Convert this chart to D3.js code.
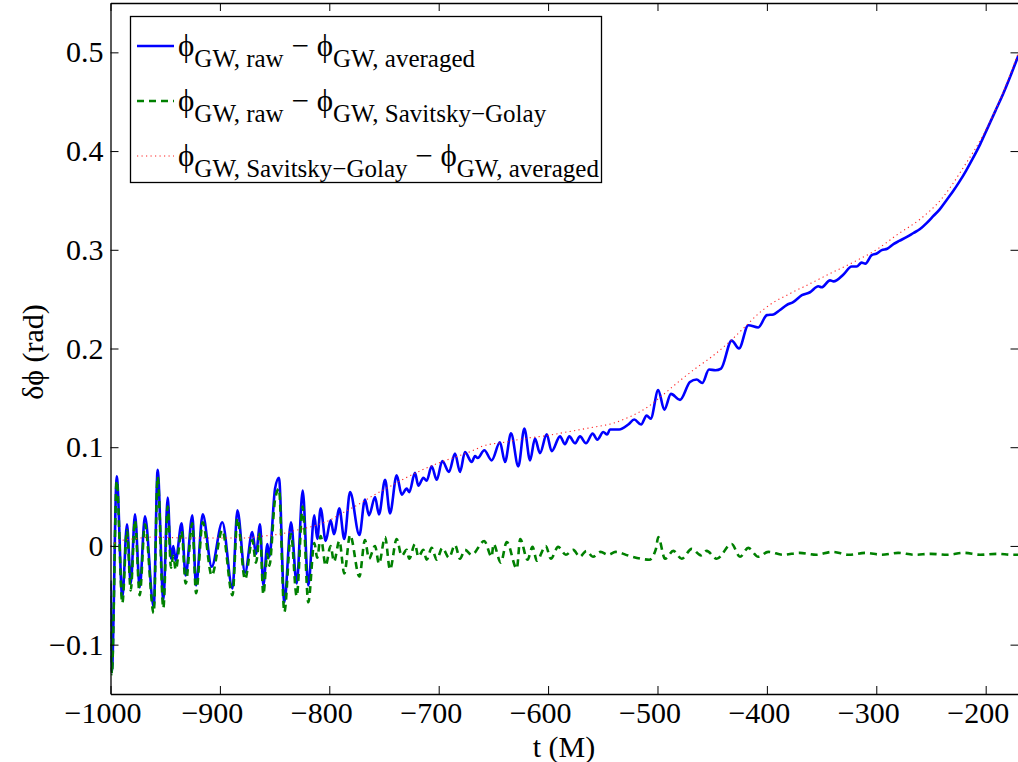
<!DOCTYPE html>
<html lang="en">
<head>
  <meta charset="UTF-8">
  <title>Phase difference</title>
  <script src="https://cdn.jsdelivr.net/npm/d3@7"></script>
  <style>
    body { margin: 0; background: #fff; }
    text { font-family: "Liberation Serif", "Times New Roman", serif; fill: #000; }
    .tick text { font-family: "Liberation Serif", "Times New Roman", serif !important; font-size: 30px !important; }
  </style>
</head>
<body>
  <svg id="chart"></svg>
  <script>
    // phi_raw - phi_averaged, [t, value] at the turning points
    const rawMinusAvg = [
      [-1000, -0.035], [-998.8, -0.128], [-994.3, 0.0705], [-989.2, -0.052], [-984.9, 0.022],
      [-981.5, -0.038], [-977.6, 0.032], [-973.3, -0.042], [-968.5, 0.030], [-960.5, -0.062],
      [-956.9, 0.077], [-951.7, -0.055], [-947.7, 0.049], [-944.7, -0.013], [-942.6, 0.000],
      [-940.4, -0.015], [-935, 0.023], [-931.3, -0.030], [-925.2, 0.031], [-921.8, -0.040],
      [-915.7, 0.032], [-907.5, -0.021], [-897.8, 0.024], [-888.5, -0.043], [-884, 0.036],
      [-877, -0.027], [-870.4, 0.014], [-867, -0.008], [-863.3, 0.022], [-860.3, -0.040],
      [-856.6, 0.002], [-854.8, -0.011], [-849.6, 0.058], [-846, 0.069], [-841.1, -0.057],
      [-835, 0.024], [-829.8, -0.038], [-824.3, 0.056], [-819.2, -0.040], [-813.7, 0.031],
      [-811, 0.007], [-807.9, 0.038], [-803.3, 0.005], [-798.8, 0.026], [-795.7, 0.012],
      [-790.8, 0.038], [-786.3, 0.007], [-781, 0.0545], [-772.5, 0.011], [-767.4, 0.047],
      [-763.7, 0.031], [-758.2, 0.0495], [-754.6, 0.032], [-749, 0.067], [-744.5, 0.033],
      [-738.4, 0.0715], [-733.8, 0.052], [-729.3, 0.058], [-726.9, 0.0545], [-721.7, 0.074],
      [-718.6, 0.061], [-714, 0.069], [-711, 0.066], [-706.4, 0.0806], [-701.8, 0.067],
      [-696.7, 0.086], [-690.6, 0.075], [-685.1, 0.0935], [-680.5, 0.075], [-676, 0.095],
      [-669.8, 0.085], [-666.8, 0.091], [-664.3, 0.089], [-658.3, 0.097], [-651.6, 0.0867],
      [-644, 0.105], [-639.4, 0.085], [-633.9, 0.114], [-627.2, 0.0806], [-621.7, 0.119],
      [-616.5, 0.0867], [-612, 0.1087], [-607.4, 0.094], [-601.3, 0.113], [-596.7, 0.096],
      [-589.1, 0.111], [-584.6, 0.103], [-580.6, 0.111], [-575.4, 0.104], [-570.8, 0.111],
      [-565.4, 0.104], [-559.3, 0.1138], [-555, 0.1077], [-549.5, 0.1154], [-546, 0.113],
      [-543.4, 0.118], [-535, 0.118], [-526.7, 0.123], [-521.2, 0.128], [-515, 0.123],
      [-509.9, 0.132], [-506.2, 0.129], [-499.3, 0.158], [-493.8, 0.138], [-487.7, 0.154],
      [-479.4, 0.148], [-470.3, 0.166], [-464.2, 0.1686], [-459.1, 0.165], [-452.9, 0.1787],
      [-447, 0.178], [-441.9, 0.1797], [-432.2, 0.208], [-425.5, 0.200], [-417, 0.2236],
      [-407.9, 0.2213], [-400, 0.2338], [-394, 0.2345], [-388, 0.239], [-382, 0.244],
      [-376, 0.247], [-368, 0.254], [-360.6, 0.257], [-353, 0.263], [-350, 0.262],
      [-342.3, 0.269], [-339, 0.268], [-330, 0.275], [-322.5, 0.283], [-318, 0.283],
      [-313.4, 0.287], [-310, 0.286], [-304.2, 0.2946], [-300, 0.296], [-295, 0.2997],
      [-290, 0.301], [-284, 0.306], [-279, 0.309], [-272, 0.313], [-266, 0.317],
      [-260, 0.321], [-254, 0.327], [-248, 0.334], [-242, 0.341], [-236, 0.350],
      [-230, 0.359], [-224, 0.369], [-218, 0.380], [-212, 0.392], [-205, 0.407],
      [-198, 0.424], [-191, 0.441], [-184, 0.458], [-177, 0.477], [-170, 0.497]
    ];

    // phi_raw - phi_Savitsky-Golay
    const rawMinusSG = [
      [-1000, -0.038], [-998.8, -0.130], [-994.3, 0.066], [-989.2, -0.058], [-984.9, 0.016],
      [-981.5, -0.045], [-977.6, 0.026], [-973.3, -0.050], [-968.5, 0.022], [-960.5, -0.068],
      [-956.9, 0.070], [-951.7, -0.063], [-947.7, 0.040], [-944.7, -0.022], [-942.6, -0.010],
      [-940.4, -0.024], [-935, 0.015], [-931.3, -0.038], [-925.2, 0.023], [-921.8, -0.048],
      [-915.7, 0.024], [-907.5, -0.030], [-897.8, 0.016], [-888.5, -0.050], [-884, 0.028],
      [-877, -0.034], [-870.4, 0.006], [-867, -0.017], [-863.3, 0.013], [-860.3, -0.049],
      [-856.6, -0.008], [-854.8, -0.020], [-849.6, 0.047], [-846, 0.058], [-841.1, -0.067],
      [-835, 0.012], [-829.8, -0.051], [-824.3, 0.040], [-819.2, -0.057], [-813.7, 0.003],
      [-811, -0.012], [-807.9, 0.010], [-803.3, -0.020], [-798.8, 0.000], [-795.7, -0.016],
      [-790.8, 0.005], [-786.3, -0.028], [-781, 0.011], [-772.5, -0.031], [-767.4, 0.006],
      [-763.7, -0.013], [-758.2, 0.000], [-754.6, -0.018], [-749, 0.009], [-744.5, -0.024],
      [-738.4, 0.007], [-733.8, -0.010], [-729.3, -0.004], [-726.9, -0.013], [-721.7, 0.002],
      [-718.6, -0.011], [-714, -0.004], [-711, -0.014], [-706.4, -0.002], [-701.8, -0.014],
      [-696.7, -0.002], [-690.6, -0.012], [-685.1, 0.001], [-680.5, -0.013], [-676, -0.004],
      [-669.8, -0.009], [-658.3, 0.005], [-651.6, -0.011], [-649.9, 0.002], [-643.2, -0.017],
      [-637.8, 0.004], [-628.6, -0.023], [-625.5, 0.007], [-618.8, -0.014], [-614.2, -0.001],
      [-610.3, -0.015], [-602.1, 0.000], [-597.5, -0.013], [-590.8, -0.001], [-583.8, -0.009],
      [-577, -0.004], [-571, -0.011], [-565, -0.005], [-559, -0.011], [-552, -0.006],
      [-545, -0.009], [-538.4, -0.006], [-526, -0.010], [-515, -0.013], [-507.5, -0.014],
      [-501.4, -0.003], [-499.3, 0.009], [-493.1, -0.013], [-485.5, -0.005], [-477.8, -0.013],
      [-468.7, -0.003], [-460.2, -0.0096], [-455, -0.005], [-445.9, -0.013], [-432.2, 0.002],
      [-424.6, -0.011], [-417, -0.002], [-407.9, -0.011], [-398.8, -0.006], [-385, -0.009],
      [-370, -0.007], [-355, -0.009], [-340, -0.006], [-325, -0.009], [-310, -0.007],
      [-295, -0.009], [-280, -0.007], [-265, -0.009], [-250, -0.008], [-235, -0.009],
      [-220, -0.007], [-205, -0.009], [-190, -0.008], [-175, -0.009], [-170, -0.009]
    ];

    // phi_Savitsky-Golay - phi_averaged (smooth trend)
    const sgMinusAvg = [
      [-1000, 0.000], [-992, 0.005], [-980, 0.007], [-960, 0.009], [-930, 0.008],
      [-900, 0.008], [-880, 0.008], [-860, 0.010], [-845, 0.012], [-830, 0.016],
      [-815, 0.020], [-800, 0.026], [-787, 0.034], [-775, 0.041], [-760, 0.051],
      [-745, 0.060], [-730, 0.069], [-715, 0.077], [-700, 0.084], [-685, 0.090],
      [-670, 0.096], [-660, 0.101], [-640, 0.105], [-620, 0.109], [-600, 0.112],
      [-580, 0.116], [-560, 0.120], [-540, 0.1245], [-525, 0.131], [-510, 0.140],
      [-495, 0.153], [-480, 0.167], [-465, 0.180], [-450, 0.192], [-435, 0.206],
      [-420, 0.222], [-408, 0.235], [-395, 0.246], [-380, 0.255], [-360, 0.266],
      [-342, 0.276], [-320, 0.288], [-300, 0.300], [-280, 0.316], [-260, 0.331],
      [-240, 0.352], [-220, 0.384], [-200, 0.421], [-185, 0.457], [-170, 0.500]
    ];

    const xTicks = [-1000, -900, -800, -700, -600, -500, -400, -300, -200];
    const yTicks = [-0.1, 0, 0.1, 0.2, 0.3, 0.4, 0.5];

    const width = 1018, height = 762;
    const plot = { left: 110.5, right: 1018.5, top: 3, bottom: 694 };

    const svg = d3.select('#chart').attr('width', width).attr('height', height);

    const x = d3.scaleLinear().domain([-1000, -170]).range([plot.left, plot.right]);
    const y = d3.scaleLinear().domain([-0.15, 0.55]).range([plot.bottom, plot.top]);

    svg.append('clipPath').attr('id', 'plotClip')
      .append('rect')
      .attr('x', plot.left).attr('y', plot.top)
      .attr('width', plot.right - plot.left).attr('height', plot.bottom - plot.top);

    const line = d3.line()
      .x(d => x(d[0]))
      .y(d => y(d[1]))
      .curve(d3.curveMonotoneX);

    const lines = svg.append('g').attr('clip-path', 'url(#plotClip)');

    lines.append('path')
      .datum(rawMinusAvg)
      .attr('d', line)
      .attr('fill', 'none')
      .attr('stroke', '#0000ff')
      .attr('stroke-width', 2.6);

    lines.append('path')
      .datum(rawMinusSG)
      .attr('d', line)
      .attr('fill', 'none')
      .attr('stroke', '#008000')
      .attr('stroke-width', 2.6)
      .attr('stroke-dasharray', '7,5');

    lines.append('path')
      .datum(sgMinusAvg)
      .attr('d', line)
      .attr('fill', 'none')
      .attr('stroke', '#ff2020')
      .attr('stroke-width', 1.1)
      .attr('stroke-dasharray', '1.2,3.3');

    // axes: MATLAB style box with inward ticks on all sides
    const tickLen = 8;
    const axisG = svg.append('g');

    const bottomAxis = axisG.append('g')
      .attr('transform', `translate(0,${plot.bottom})`)
      .call(d3.axisBottom(x).tickValues(xTicks).tickSizeInner(-tickLen).tickSizeOuter(0).tickFormat(d => '−' + Math.abs(d)));
    bottomAxis.selectAll('.tick text')
      .attr('y', 8)
      .attr('dx', -8);

    axisG.append('g')
      .attr('transform', `translate(0,${plot.top})`)
      .call(d3.axisTop(x).tickValues(xTicks).tickSizeInner(-tickLen).tickSizeOuter(0).tickFormat(''));

    const leftAxis = axisG.append('g')
      .attr('transform', `translate(${plot.left},0)`)
      .call(d3.axisLeft(y).tickValues(yTicks).tickSizeInner(-tickLen).tickSizeOuter(0)
        .tickFormat(d => d === 0 ? '0' : (d < 0 ? '−' + Math.abs(d) : String(d))));
    leftAxis.selectAll('.tick text')
      .attr('x', -7);

    axisG.append('g')
      .attr('transform', `translate(${plot.right},0)`)
      .call(d3.axisRight(y).tickValues(yTicks).tickSizeInner(-tickLen).tickSizeOuter(0).tickFormat(''));

    axisG.selectAll('g').attr('font-family', 'Liberation Serif').attr('font-size', 30);
    axisG.selectAll('.domain').attr('stroke', '#000').attr('stroke-width', 1.3);
    axisG.selectAll('.tick line').attr('stroke', '#000').attr('stroke-width', 1);

    // axis titles
    svg.append('text')
      .attr('x', 564)
      .attr('y', 757)
      .attr('text-anchor', 'middle')
      .style('font-size', '30px')
      .text('t (M)');

    svg.append('text')
      .attr('transform', 'translate(43,352) rotate(-90)')
      .attr('text-anchor', 'middle')
      .style('font-size', '30px')
      .text('δϕ (rad)');

    // legend
    const legendRows = [
      { sub1: 'GW, raw', sub2: 'GW, averaged', color: '#0000ff', width: 2.6, dash: null },
      { sub1: 'GW, raw', sub2: 'GW, Savitsky−Golay', color: '#008000', width: 2.6, dash: '7,5' },
      { sub1: 'GW, Savitsky−Golay', sub2: 'GW, averaged', color: '#ff2020', width: 1.1, dash: '1.2,3.3' }
    ];

    const legend = svg.append('g');
    legend.append('rect')
      .attr('x', 130.5).attr('y', 16.5)
      .attr('width', 471).attr('height', 166)
      .attr('fill', '#fff')
      .attr('stroke', '#000')
      .attr('stroke-width', 1.3);

    legendRows.forEach((r, i) => {
      const base = 56 + i * 55;
      legend.append('line')
        .attr('x1', 137).attr('x2', 174)
        .attr('y1', base - 10).attr('y2', base - 10)
        .attr('stroke', r.color)
        .attr('stroke-width', r.width)
        .attr('stroke-dasharray', r.dash);

      const t = legend.append('text').attr('x', 178).attr('y', base);
      t.append('tspan').style('font-size', '31px').text('ϕ');
      t.append('tspan').attr('dy', 11).style('font-size', '25px').text(r.sub1);
      t.append('tspan').attr('dy', -11).style('font-size', '31px').text(' − ϕ');
      t.append('tspan').attr('dy', 11).style('font-size', '25px').text(r.sub2);
    });
  </script>
</body>
</html>
